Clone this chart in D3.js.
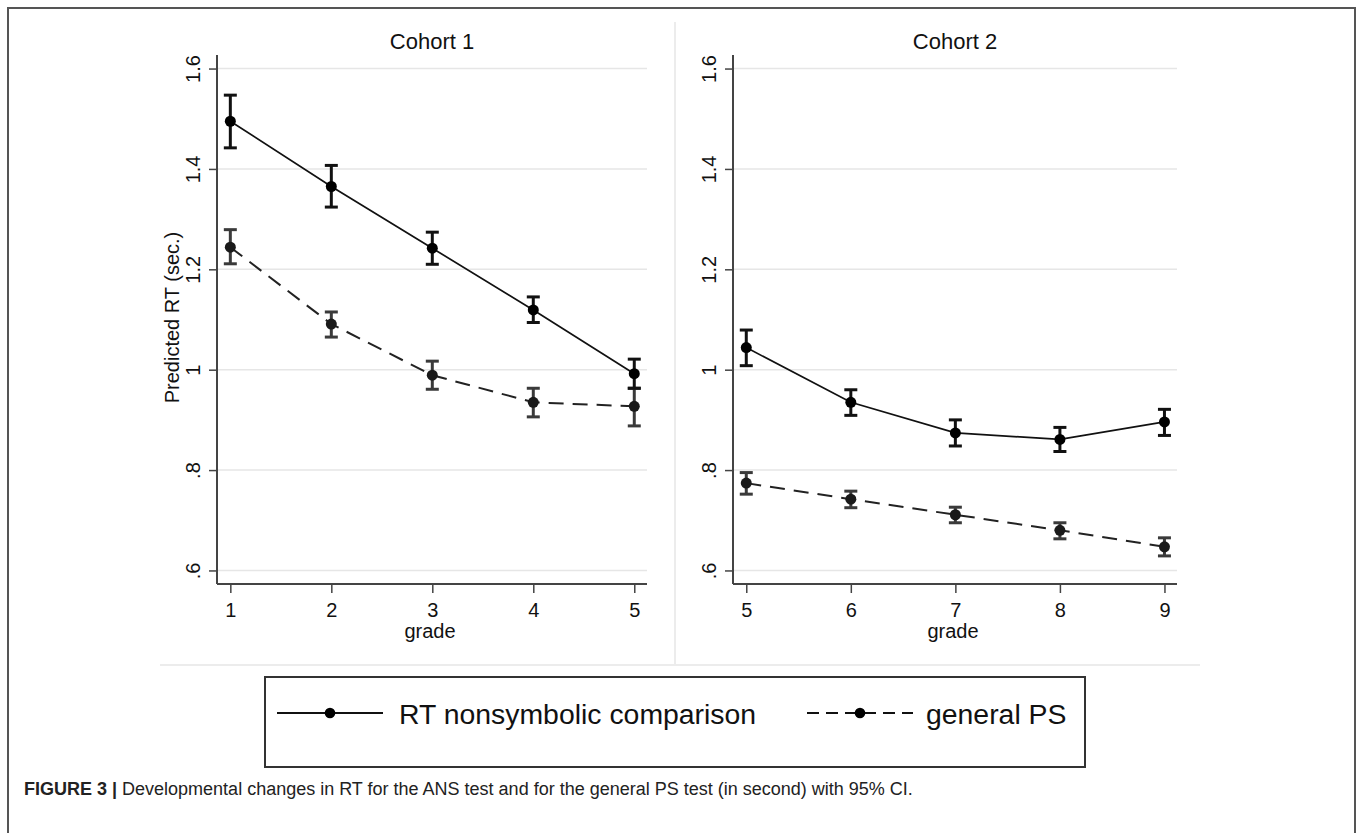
<!DOCTYPE html>
<html>
<head>
<meta charset="utf-8">
<script src="https://d3js.org/d3.v7.min.js"></script>
<style>
  body { margin: 0; background: #fff; }
  text { font-family: "Liberation Sans", Arial, sans-serif; }
</style>
</head>
<body>
<div id="my_dataviz"></div>
<script>
// data
const cohorts = ["Cohort 1", "Cohort 2"];
const grades1 = [1, 2, 3, 4, 5];
const grades2 = [5, 6, 7, 8, 9];

// cohort 1
const rt1   = [1.495, 1.365, 1.242, 1.119, 0.992];
const rt1Lo = [1.442, 1.324, 1.210, 1.094, 0.963];
const rt1Hi = [1.547, 1.407, 1.274, 1.145, 1.021];
const ps1   = [1.244, 1.091, 0.989, 0.935, 0.927];
const ps1Lo = [1.211, 1.065, 0.961, 0.906, 0.888];
const ps1Hi = [1.279, 1.115, 1.017, 0.963, 0.963];

// cohort 2
const rt2   = [1.044, 0.935, 0.874, 0.861, 0.896];
const rt2Lo = [1.008, 0.909, 0.848, 0.837, 0.869];
const rt2Hi = [1.079, 0.960, 0.900, 0.885, 0.921];
const ps2   = [0.774, 0.742, 0.711, 0.680, 0.647];
const ps2Lo = [0.752, 0.725, 0.695, 0.663, 0.629];
const ps2Hi = [0.795, 0.758, 0.726, 0.695, 0.665];

const yTicks = [0.6, 0.8, 1.0, 1.2, 1.4, 1.6];
const yTickLabels = [".6", ".8", "1", "1.2", "1.4", "1.6"];
const seriesNames = ["RT nonsymbolic comparison", "general PS"];
const caption = "Developmental changes in RT for the ANS test and for the general PS test (in second) with 95% CI.";

const W = 1357, H = 833;
const svg = d3.select("#my_dataviz")
  .append("svg")
  .attr("width", W)
  .attr("height", H);

// outer frame
svg.append("rect")
  .attr("x", 8).attr("y", 8)
  .attr("width", 1347).attr("height", 840)
  .attr("fill", "none")
  .attr("stroke", "#555")
  .attr("stroke-width", 2);

// light separators between panels and legend
svg.append("line")
  .attr("x1", 675).attr("x2", 675).attr("y1", 22).attr("y2", 665)
  .attr("stroke", "#ececec").attr("stroke-width", 2);
svg.append("line")
  .attr("x1", 160).attr("x2", 1200).attr("y1", 665).attr("y2", 665)
  .attr("stroke", "#ececec").attr("stroke-width", 2);

const y = d3.scaleLinear()
  .domain([0.573, 1.627])
  .range([584, 55]);

const panels = [
  { title: cohorts[0], grades: grades1, left: 217, right: 647, dom: [0.868, 5.126],
    rt: rt1, rtLo: rt1Lo, rtHi: rt1Hi, ps: ps1, psLo: ps1Lo, psHi: ps1Hi, ylab: true },
  { title: cohorts[1], grades: grades2, left: 733, right: 1177, dom: [4.873, 9.12],
    rt: rt2, rtLo: rt2Lo, rtHi: rt2Hi, ps: ps2, psLo: ps2Lo, psHi: ps2Hi, ylab: false }
];

panels.forEach(p => {
  const x = d3.scaleLinear().domain(p.dom).range([p.left, p.right]);
  const g = svg.append("g");

  // gridlines
  g.selectAll(".grid")
    .data(yTicks)
    .join("line")
      .attr("x1", p.left).attr("x2", p.right)
      .attr("y1", d => y(d)).attr("y2", d => y(d))
      .attr("stroke", "#e6e6e6")
      .attr("stroke-width", 1.5);

  // y axis
  const yAxis = g.append("g")
    .attr("transform", `translate(${p.left},0)`)
    .call(d3.axisLeft(y).tickValues(yTicks).tickSize(8).tickFormat((d, i) => yTickLabels[i]));
  yAxis.select(".domain").attr("stroke", "#444").attr("stroke-width", 2).attr("d", `M0,${y.range()[0]}V${y.range()[1]}`);
  yAxis.selectAll(".tick line").attr("stroke", "#444").attr("stroke-width", 1.5);
  yAxis.selectAll(".tick text")
    .attr("x", 0).attr("dy", null)
    .attr("transform", "translate(-24,0) rotate(-90)")
    .attr("text-anchor", "middle")
    .attr("dominant-baseline", "central")
    .style("font-size", "20px")
    .attr("fill", "#111");

  // x axis
  const xAxis = g.append("g")
    .attr("transform", `translate(0,${y.range()[0]})`)
    .call(d3.axisBottom(x).tickValues(p.grades).tickSize(9).tickFormat(d3.format("d")));
  xAxis.select(".domain").attr("stroke", "#444").attr("stroke-width", 2).attr("d", `M${p.left},0H${p.right}`);
  xAxis.selectAll(".tick line").attr("stroke", "#444").attr("stroke-width", 1.5);
  xAxis.selectAll(".tick text")
    .attr("y", 26).attr("dy", null)
    .attr("dominant-baseline", "central")
    .style("font-size", "20px")
    .attr("fill", "#111");

  // axis titles
  g.append("text")
    .attr("x", (p.left + p.right) / 2 - 2)
    .attr("y", 631)
    .attr("text-anchor", "middle")
    .attr("dominant-baseline", "central")
    .style("font-size", "20px")
    .attr("fill", "#111")
    .text("grade");

  if (p.ylab) {
    g.append("text")
      .attr("transform", `translate(172,${(y.range()[0] + y.range()[1]) / 2 - 2}) rotate(-90)`)
      .attr("text-anchor", "middle")
      .attr("dominant-baseline", "central")
      .style("font-size", "20px")
      .attr("fill", "#111")
      .text("Predicted RT (sec.)");
  }

  g.append("text")
    .attr("x", (p.left + p.right) / 2)
    .attr("y", 41)
    .attr("text-anchor", "middle")
    .attr("dominant-baseline", "central")
    .style("font-size", "22px")
    .attr("fill", "#111")
    .text(p.title);

  // series: general PS (dashed) then RT (solid)
  const series = [
    { v: p.ps, lo: p.psLo, hi: p.psHi, dash: "15,9", col: "#222", bar: "#3a3a3a", w: 2 },
    { v: p.rt, lo: p.rtLo, hi: p.rtHi, dash: null, col: "#111", bar: "#111", w: 1.7 }
  ];

  series.forEach(s => {
    const pts = p.grades.map((gr, i) => ({ g: gr, v: s.v[i], lo: s.lo[i], hi: s.hi[i] }));

    g.append("path")
      .datum(pts)
      .attr("d", d3.line().x(d => x(d.g)).y(d => y(d.v)))
      .attr("fill", "none")
      .attr("stroke", s.col)
      .attr("stroke-width", s.w)
      .attr("stroke-dasharray", s.dash);

    // error bars
    const eb = g.selectAll(null).data(pts).join("g").attr("stroke", s.bar).attr("stroke-width", 3);
    eb.append("line")
      .attr("x1", d => x(d.g)).attr("x2", d => x(d.g))
      .attr("y1", d => y(d.lo)).attr("y2", d => y(d.hi));
    eb.append("line")
      .attr("x1", d => x(d.g) - 6.5).attr("x2", d => x(d.g) + 6.5)
      .attr("y1", d => y(d.lo)).attr("y2", d => y(d.lo));
    eb.append("line")
      .attr("x1", d => x(d.g) - 6.5).attr("x2", d => x(d.g) + 6.5)
      .attr("y1", d => y(d.hi)).attr("y2", d => y(d.hi));

    g.selectAll(null).data(pts).join("circle")
      .attr("cx", d => x(d.g))
      .attr("cy", d => y(d.v))
      .attr("r", 5.5)
      .attr("fill", s.col === "#111" ? "#000" : "#1a1a1a");
  });
});

// legend
const leg = svg.append("g");
leg.append("rect")
  .attr("x", 265).attr("y", 677)
  .attr("width", 820).attr("height", 90)
  .attr("fill", "#fff")
  .attr("stroke", "#333")
  .attr("stroke-width", 2);

const legItems = [
  { name: seriesNames[0], x0: 277, x1: 383, tx: 399, dash: null },
  { name: seriesNames[1], x0: 807, x1: 913, tx: 926, dash: "12,7" }
];
legItems.forEach(l => {
  leg.append("line")
    .attr("x1", l.x0).attr("x2", l.x1).attr("y1", 713).attr("y2", 713)
    .attr("stroke", "#111").attr("stroke-width", 2)
    .attr("stroke-dasharray", l.dash);
  leg.append("circle")
    .attr("cx", (l.x0 + l.x1) / 2).attr("cy", 713).attr("r", 5.3)
    .attr("fill", "#000");
  leg.append("text")
    .attr("x", l.tx).attr("y", 714)
    .attr("dominant-baseline", "central")
    .style("font-size", "28.4px")
    .attr("fill", "#111")
    .text(l.name);
});

// caption
const cap = svg.append("text")
  .attr("x", 24).attr("y", 789)
  .attr("dominant-baseline", "central")
  .style("font-size", "18px")
  .attr("fill", "#222");
cap.append("tspan").style("font-weight", "bold").text("FIGURE 3 | ");
cap.append("tspan").text(caption);
</script>
</body>
</html>
